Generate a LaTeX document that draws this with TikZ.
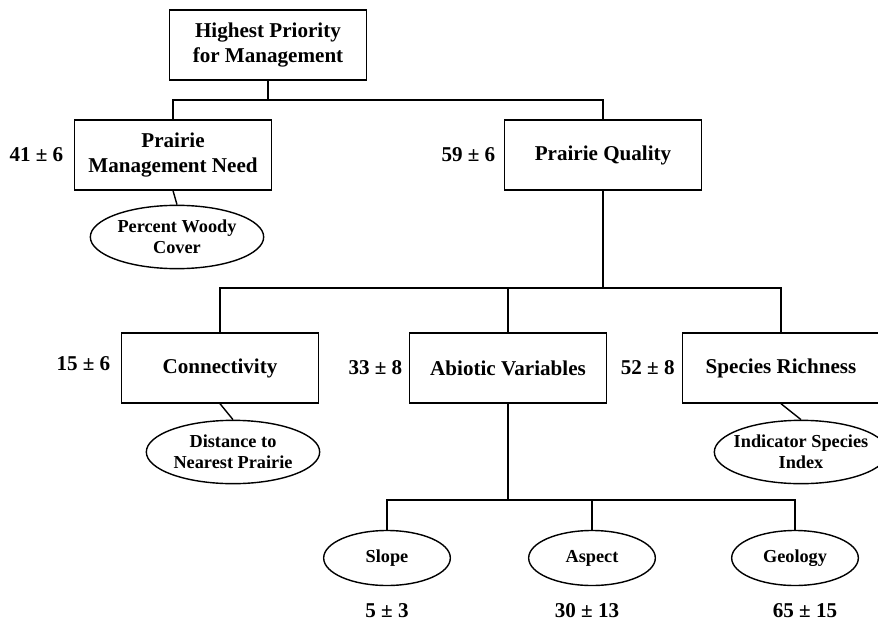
\documentclass[tikz,border=0pt]{standalone}
\usepackage{fontspec}
\setmainfont{Liberation Serif}
\usetikzlibrary{positioning,shapes.geometric}

\begin{document}
\begin{tikzpicture}[x=0.03cm,y=-0.03cm,line width=1.2pt,
	box/.style={draw,rectangle,minimum width=5.9cm,minimum height=2.1cm,align=center,font=\fontsize{18}{21.6}\selectfont\bfseries},
	oval/.style={draw,ellipse,minimum width=5.2cm,minimum height=1.9cm,inner xsep=-0.25cm,inner ysep=0pt,align=center,font=\fontsize{15.6}{18}\selectfont\bfseries},
	smalloval/.style={oval,minimum width=3.8cm,minimum height=1.65cm},
	val/.style={inner sep=0pt,font=\fontsize{18}{21.6}\selectfont\bfseries}]
	\useasboundingbox (0,0) rectangle (878,623);
	\node[box] (top) at (268,45) {Highest Priority\\for Management};
	\node[box] (pmn) at (173,155) {Prairie\\Management Need};
	\node[box] (pq) at (603,155) {Prairie Quality};
	\node[oval] (pwc) at (177,237) {Percent Woody\\Cover};
	\node[box] (conn) at (220,368) {Connectivity};
	\node[box] (abio) at (508,368) {Abiotic Variables};
	\node[box] (spec) at (781,368) {Species Richness};
	\node[oval] (dist) at (233,452) {Distance to\\Nearest Prairie};
	\node[oval] (ind) at (801,452) {Indicator Species\\Index};
	\node[smalloval] (slope) at (387,558) {Slope};
	\node[smalloval] (aspect) at (592,558) {Aspect};
	\node[smalloval] (geol) at (795,558) {Geology};
	\node[val, left=0.3cm of pmn] (vpmn) {41 ± 6};
	\node[val, left=0.24cm of pq] (vpq) {59 ± 6};
	\node[val, left=0.3cm of conn, yshift=0.12cm] (vconn) {15 ± 6};
	\node[val, left=0.18cm of abio] (vabio) {33 ± 8};
	\node[val, left=0.2cm of spec] (vspec) {52 ± 8};
	\node[val, below=0.5cm of slope] (vslope) {5 ± 3};
	\node[val, below=0.5cm of aspect, xshift=-0.15cm] (vaspect) {30 ± 13};
	\node[val, below=0.5cm of geol, xshift=0.3cm] (vgeol) {65 ± 15};
	\draw (top.south) -- (top.south |- 0,100) coordinate (bar1);
	\draw (pmn.north) |- (bar1) -| (pq.north);
	\draw (pq.south) -- (pq.south |- 0,288) coordinate (bar2);
	\draw (conn.north) |- (bar2) -| (spec.north);
	\draw (bar2) -| (abio.north);
	\draw (abio.south) -- (abio.south |- 0,500) coordinate (bar3);
	\draw (slope.north) |- (bar3) -| (geol.north);
	\draw (bar3) -| (aspect.north);
	\draw (pmn.south) -- (pwc.north);
	\draw (conn.south) -- (dist.north);
	\draw (spec.south) -- (ind.north);
\end{tikzpicture}
\end{document}
